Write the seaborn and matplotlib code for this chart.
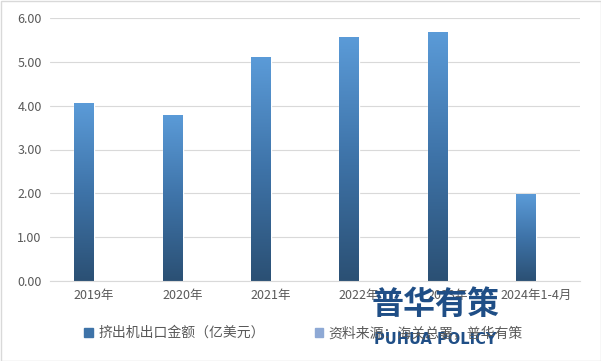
import numpy as np
import pandas as pd
import matplotlib
matplotlib.use("Agg")
import matplotlib.pyplot as plt
import seaborn as sns
from matplotlib.colors import LinearSegmentedColormap
from matplotlib.patches import Rectangle

categories = ["2019年", "2020年", "2021年", "2022年", "2023年", "2024年1-4月"]
values = [4.06, 3.79, 5.11, 5.57, 5.69, 1.98]
series_names = ["挤出机出口金额（亿美元）", "资料来源：海关总署，普华有策"]
y_ticks = [0, 1, 2, 3, 4, 5, 6]

sns.set_theme(style="white")
plt.rcParams['font.family'] = ['Noto Sans CJK SC', 'DejaVu Sans']

df = pd.DataFrame({
    "cat": categories * 2,
    "val": values + [np.nan] * len(values),
    "series": [series_names[0]] * len(values) + [series_names[1]] * len(values),
})

fig = plt.figure(figsize=(6.01, 3.61), dpi=100)
ax = fig.add_axes([50/601, 1-281/361, 530/601, (281-18)/361])

sns.barplot(data=df, x="cat", y="val", hue="series", order=categories,
            hue_order=series_names, palette=["#4A86C5", "#8EA9D5"],
            width=0.45, dodge=True, ax=ax, legend=False, saturation=1)

cmap = LinearSegmentedColormap.from_list("g", ["#2B5074", "#3E73A8", "#5B9BD8"])
grad = np.linspace(0, 1, 256).reshape(-1, 1)
for p in list(ax.patches):
    h = p.get_height()
    if not np.isfinite(h) or h == 0:
        continue
    x0 = p.get_x(); w = p.get_width()
    im = ax.imshow(grad, cmap=cmap, origin="lower", aspect="auto",
                   extent=[x0, x0 + w, 0, h], zorder=p.get_zorder() + 0.1)
    im.set_clip_path(p)

ax.set_xlim(-0.5, len(categories) - 0.5)
ax.set_ylim(0, 6)
ax.set_yticks(y_ticks)
ax.set_yticklabels([f"{t:.2f}" for t in y_ticks], fontsize=9, color="#595959")
ax.set_xticks(range(len(categories)))
ax.set_xticklabels(categories, fontsize=9, color="#595959")
ax.tick_params(axis="both", length=0, pad=6)
ax.set_xlabel(""); ax.set_ylabel("")
ax.yaxis.grid(True, color="#D9D9D9", linewidth=0.8)
ax.set_axisbelow(True)
for s in ["top", "right", "left"]:
    ax.spines[s].set_visible(False)
ax.spines["bottom"].set_color("#D9D9D9")
ax.spines["bottom"].set_linewidth(0.8)

# legend
handles = [Rectangle((0, 0), 1, 1, color="#3E73A8"), Rectangle((0, 0), 1, 1, color="#8EA9D5")]
fig.legend(handles, series_names, loc="center", bbox_to_anchor=(0.505, 1-333/361),
           ncol=2, frameon=False, fontsize=10, handlelength=0.6, handleheight=0.6,
           handletextpad=0.4, columnspacing=3.6, labelcolor="#595959")

# watermark
fig.text(436/601, 1-305/361, "普华有策", fontsize=23, fontweight="bold",
         color="#1F4E86", ha="center", va="center")
fig.text(435/601, 1-340/361, "PUHUA POLICY", fontsize=10.5, fontweight="bold",
         color="#1F4E86", ha="center", va="center", family="DejaVu Sans")

# figure border
fig.patches.append(Rectangle((0.5/601, 0.5/361), 600/601, 360/361, transform=fig.transFigure,
                             fill=False, edgecolor="#D9D9D9", linewidth=1))

fig.savefig("out.png", dpi=100)
